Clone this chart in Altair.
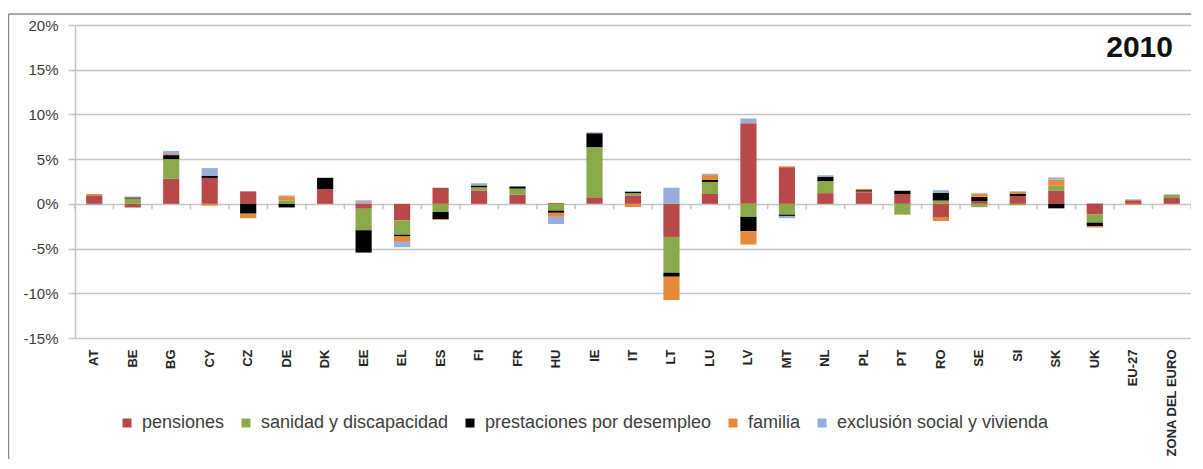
import altair as alt
import pandas as pd

categories = ["AT", "BE", "BG", "CY", "CZ", "DE", "DK", "EE", "EL", "ES", "FI", "FR",
              "HU", "IE", "IT", "LT", "LU", "LV", "MT", "NL", "PL", "PT", "RO", "SE",
              "SI", "SK", "UK", "EU-27", "ZONA DEL EURO"]

series = ["pensiones", "sanidad y discapacidad", "prestaciones por desempleo",
          "familia", "exclusión social y vivienda"]

pensiones = [0.95, -0.4, 2.8, 2.9, 1.4, 0.0, 1.65, -0.55, -1.85, 1.8, 1.5, 1.05,
             0.1, 0.75, 0.95, -3.7, 1.1, 9.0, 4.1, 1.2, 1.3, 1.1, -1.55, 0.3,
             0.85, 1.5, -1.2, 0.4, 0.65]
sanidad = [0.0, 0.6, 2.2, 0.0, 0.0, 0.4, 0.0, -2.4, -1.6, -0.9, 0.35, 0.65,
           -0.75, 5.6, 0.25, -4.0, 1.35, -1.45, -1.2, 1.35, 0.08, -1.15, 0.37, -0.37,
           -0.15, 0.52, -0.9, 0.05, 0.37]
desempleo = [0.0, 0.12, 0.45, 0.25, -1.1, -0.4, 1.25, -2.5, -0.2, -0.8, 0.2, 0.25,
             -0.25, 1.55, 0.15, -0.45, 0.22, -1.6, -0.15, 0.45, 0.15, 0.35, 0.85, 0.48,
             0.3, -0.5, -0.4, 0.0, 0.0]
familia = [0.15, 0.05, 0.12, -0.2, -0.5, 0.45, 0.0, 0.1, -0.6, -0.1, 0.05, 0.0,
           -0.45, 0.0, -0.35, -2.6, 0.55, -1.5, 0.1, 0.0, 0.15, -0.07, -0.37, 0.37,
           0.22, 0.67, -0.15, -0.1, 0.0]
exclusion = [-0.15, 0.05, 0.35, 0.85, 0.05, 0.1, 0.05, 0.3, -0.6, 0.0, 0.2, 0.05,
             -0.8, 0.1, 0.1, 1.8, 0.15, 0.55, -0.25, 0.2, 0.0, 0.05, 0.3, 0.08,
             0.05, 0.26, 0.1, 0.07, 0.05]

y_ticks = [-15, -10, -5, 0, 5, 10, 15, 20]
title_text = ["2010"]

colors = ["#B94848", "#8AAA4A", "#000000", "#E8893A", "#97AEDB"]

values = [pensiones, sanidad, desempleo, familia, exclusion]
rows = []
for si, (s, vals) in enumerate(zip(series, values)):
    for c, v in zip(categories, vals):
        rows.append({"pais": c, "serie": s, "valor": v, "orden": si})
df = pd.DataFrame(rows)

FONT = "Liberation Sans"

x_enc = alt.X("pais:N", sort=categories, title=None,
              scale=alt.Scale(paddingInner=0, paddingOuter=0),
              axis=alt.Axis(labelAngle=-90, domain=False, ticks=False, grid=False,
                            labelFont=FONT, labelFontSize=13, labelFontWeight="bold",
                            labelColor="#262626", labelPadding=11, labelLimit=0))
y_enc = alt.Y("valor:Q", stack="zero", title=None,
              scale=alt.Scale(domain=[-15, 20], nice=False, zero=False),
              axis=alt.Axis(values=y_ticks, labelExpr="datum.value + '%'",
                            grid=True, gridColor="#c4c4c4", gridWidth=1.5,
                            domainColor="#c4c4c4", domainWidth=1.5,
                            tickColor="#c4c4c4", tickWidth=1.5, tickSize=7,
                            labelFont=FONT, labelFontSize=15, labelColor="#404040",
                            labelPadding=10))

bars = alt.Chart(df).mark_bar(width=alt.RelativeBandSize(0.42)).encode(
    x=x_enc,
    y=y_enc,
    color=alt.Color("serie:N", sort=series,
                    scale=alt.Scale(domain=series, range=colors),
                    legend=alt.Legend(title=None, orient="none", legendX=43, legendY=389,
                                      direction="horizontal", symbolType="square",
                                      symbolSize=81, symbolStrokeWidth=0,
                                      labelFont=FONT, labelFontSize=18, labelLimit=0,
                                      labelColor="#404040", columnPadding=12,
                                      labelOffset=6, padding=0)),
    order=alt.Order("orden:Q", sort="ascending"),
)

cat_df = pd.DataFrame({"pais": categories})
ticks = alt.Chart(cat_df).mark_rule(color="#c4c4c4", strokeWidth=1.5).encode(
    x=alt.X("pais:N", sort=categories, bandPosition=0),
    y=alt.datum(0),
    y2=alt.datum(-0.6),
)
tick_end = alt.Chart(pd.DataFrame({"pais": categories[-1:]})).mark_rule(
    color="#c4c4c4", strokeWidth=1.5).encode(
    x=alt.X("pais:N", sort=categories, bandPosition=1),
    y=alt.datum(0),
    y2=alt.datum(-0.6),
)

title = alt.Chart(pd.DataFrame({"t": title_text})).mark_text(
    font=FONT, fontSize=30, fontWeight="bold", color="#111111",
    align="right", baseline="alphabetic").encode(
    text="t:N", x=alt.value(1098), y=alt.value(32))

frame_df = pd.DataFrame({"k": [0]})
frame_top = alt.Chart(frame_df).mark_rule(color="#8a8a8a", strokeWidth=1.5).encode(
    x=alt.value(-66.5), x2=alt.value(1130), y=alt.value(-11))
frame_left = alt.Chart(frame_df).mark_rule(color="#8a8a8a", strokeWidth=1.5).encode(
    x=alt.value(-66.5), y=alt.value(-11), y2=alt.value(440))

chart = alt.layer(bars, ticks, tick_end, title, frame_top, frame_left).properties(
    width=1116, height=313,
    autosize=alt.AutoSizeParams(type="none"),
    padding={"left": 67, "top": 17, "right": 0, "bottom": 121},
).configure_view(stroke=None).configure(background="white")

chart.save("out.html", embed_options={"renderer": "svg", "actions": False})
